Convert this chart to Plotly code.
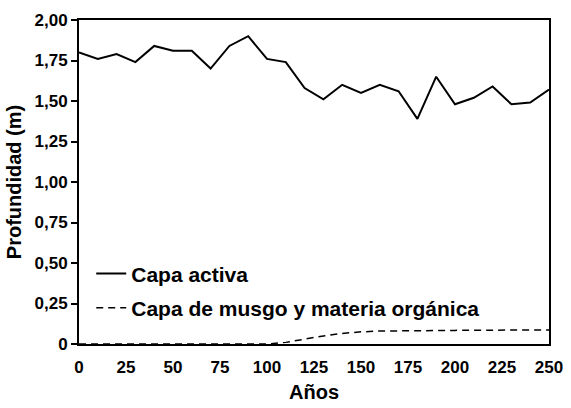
import plotly.graph_objects as go

years = [0, 10, 20, 30, 40, 50, 60, 70, 80, 90, 100, 110, 120, 130, 140, 150,
         160, 170, 180, 190, 200, 210, 220, 230, 240, 250]
capa_activa = [1.80, 1.76, 1.79, 1.74, 1.84, 1.81, 1.81, 1.70, 1.84, 1.90, 1.76,
               1.74, 1.58, 1.51, 1.60, 1.55, 1.60, 1.56, 1.39, 1.65, 1.48, 1.52,
               1.59, 1.48, 1.49, 1.57]
capa_musgo = [0, 0, 0, 0, 0, 0, 0, 0, 0, 0, 0, 0.01, 0.03, 0.05, 0.065, 0.075,
              0.08, 0.08, 0.082, 0.083, 0.084, 0.085, 0.085, 0.085, 0.086, 0.087]

y_ticks = [0, 0.25, 0.5, 0.75, 1.0, 1.25, 1.5, 1.75, 2.0]
y_ticktext = ["0", "0,25", "0,50", "0,75", "1,00", "1,25", "1,50", "1,75", "2,00"]
x_ticks = [0, 25, 50, 75, 100, 125, 150, 175, 200, 225, 250]

FONT = "Liberation Sans, Arial, sans-serif"

fig = go.Figure()
fig.add_trace(go.Scatter(x=years, y=capa_activa, mode="lines", name="Capa activa",
                         line=dict(color="black", width=2), legendgroup="a"))
fig.add_trace(go.Scatter(x=years, y=capa_musgo, mode="lines",
                         name="Capa de musgo y materia orgánica",
                         line=dict(color="black", width=1.5, dash="7px,5px"), legendgroup="b"))

fig.update_layout(
    width=571, height=408,
    margin=dict(l=79, r=22, t=20, b=64),
    paper_bgcolor="white", plot_bgcolor="white",
    font=dict(family=FONT, color="black", size=17, weight="bold"),
    showlegend=True,
    legend=dict(x=0.026, y=0.28, xanchor="left", yanchor="top",
                bgcolor="rgba(0,0,0,0)", font=dict(size=21, weight="bold"),
                traceorder="grouped", tracegroupgap=4, itemwidth=30),
    xaxis=dict(range=[0, 250], tickvals=x_ticks, showgrid=False, zeroline=False,
               showline=True, linecolor="black", linewidth=2, mirror=True,
               ticks="", tickfont=dict(size=17, weight="bold"), automargin=False,
               ticklabelstandoff=7,
               title=dict(text="Años", font=dict(size=20, weight="bold"), standoff=9)),
    yaxis=dict(range=[0, 2.0], tickvals=y_ticks, ticktext=y_ticktext, showgrid=False,
               zeroline=False, showline=True, linecolor="black", linewidth=2, mirror=True,
               ticks="outside", ticklen=6, tickwidth=1.5, tickcolor="black",
               tickfont=dict(size=17, weight="bold"), automargin=False,
               title=dict(text="Profundidad (m)", font=dict(size=20, weight="bold"), standoff=8)),
)

fig.write_html("out.html", config={"displayModeBar": False},
               post_script="document.body.style.margin='0';")
